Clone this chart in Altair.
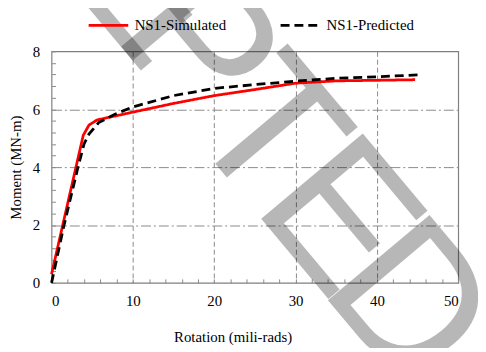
import altair as alt
import pandas as pd

# Data
sim_x = [0, 3.9, 4.6, 5.6, 10, 15, 20, 25, 30, 35, 40, 44.7]
sim_y = [0.3, 5.1, 5.45, 5.63, 5.9, 6.2, 6.47, 6.68, 6.9, 6.98, 7.0, 7.02]
pred_x = [0, 1.5, 3.2, 4.0, 4.6, 5.8, 7.8, 10, 15, 20, 25, 30, 35, 40, 45.4]
pred_y = [0, 1.95, 3.94, 4.8, 5.14, 5.54, 5.83, 6.08, 6.47, 6.72, 6.85, 6.97, 7.07, 7.12, 7.19]
series = ["NS1-Simulated", "NS1-Predicted"]
x_ticks = [0, 2, 4, 6, 8, 10, 12, 14, 16, 18, 20, 22, 24, 26, 28, 30, 32, 34, 36, 38, 40,
           42, 44, 46, 48, 50]
y_ticks = [0, 0.4, 0.8, 1.2, 1.6, 2, 2.4, 2.8, 3.2, 3.6, 4, 4.4, 4.8, 5.2, 5.6, 6, 6.4,
           6.8, 7.2, 7.6, 8]
watermark_letters = ["E", "P", "T", "E", "D"]

rows = []
for i, (x, y) in enumerate(zip(sim_x, sim_y)):
    rows.append({"series": series[0], "x": x, "y": y, "o": i})
for i, (x, y) in enumerate(zip(pred_x, pred_y)):
    rows.append({"series": series[1], "x": x, "y": y, "o": i})
df = pd.DataFrame(rows)

FONT = "Liberation Serif, Times New Roman, Times, serif"
GRID = "#8a8a8a"

x_axis = alt.Axis(
    values=x_ticks,
    title="Rotation (mili-rads)",
    labelExpr="datum.value % 10 == 0 ? format(datum.value, 'd') : ''",
    grid=True,
    gridColor=GRID,
    gridDash=[5, 3],
    gridOpacity={"condition": {"test": "datum.value % 10 == 0 && datum.value > 0 && datum.value < 50", "value": 1}, "value": 0},
    domain=False,
    ticks=True,
    tickColor=GRID,
    tickSize=4,
    offset=-4,
    labelPadding=11,
    labelFont=FONT,
    labelFontSize=15,
    labelColor="black",
    titleFont=FONT,
    titleFontSize=15,
    titleFontWeight="normal",
    titleColor="black",
    titlePadding=21,
    titleX=183,
)

y_axis = alt.Axis(
    values=y_ticks,
    title="Moment (MN-m)",
    labelExpr="abs(datum.value - round(datum.value / 2) * 2) < 0.01 ? format(datum.value, 'd') : ''",
    grid=True,
    gridColor=GRID,
    gridDash=[10, 3, 2, 3],
    gridOpacity={"condition": {"test": "abs(datum.value - round(datum.value / 2) * 2) < 0.01 && datum.value > 0.1 && datum.value < 7.9", "value": 1}, "value": 0},
    domain=False,
    ticks=True,
    tickColor=GRID,
    tickSize=4,
    offset=-4,
    labelPadding=12,
    labelFont=FONT,
    labelFontSize=15,
    labelColor="black",
    titleFont=FONT,
    titleFontSize=15,
    titleFontWeight="normal",
    titleColor="black",
    titleX=-40,
    titleY=117,
    titleAlign="center",
    titleBaseline="middle",
    titleAngle=270,
)

# watermark letters (decoration of the scanned page), anchors relative to plot area
wm_anchor = [(12, -74), (60, -17), (133, 75), (201.5, 157), (269, 239.5)]
wm_layers = []
for letter, (ax, ay) in zip(watermark_letters, wm_anchor):
    wm_layers.append(
        alt.Chart(pd.DataFrame({"t": [letter]})).mark_text(
            font="Liberation Sans Narrow, Liberation Sans, sans-serif",
            fontSize=195,
            angle=50,
            align="left",
            baseline="alphabetic",
            color="black",
            opacity=0.28,
        ).encode(text="t:N", x=alt.value(ax), y=alt.value(ay))
    )

lines = alt.Chart(df).mark_line(strokeWidth=2.8).encode(
    x=alt.X("x:Q", scale=alt.Scale(domain=[0, 50], nice=False), axis=x_axis),
    y=alt.Y("y:Q", scale=alt.Scale(domain=[0, 8], nice=False), axis=y_axis),
    order="o:Q",
    color=alt.Color(
        "series:N",
        scale=alt.Scale(domain=series, range=["#ff0000", "#000000"]),
        legend=alt.Legend(
            title=None,
            orient="none",
            legendX=36,
            legendY=-48,
            direction="horizontal",
            symbolType="stroke",
            symbolSize=1600,
            symbolStrokeWidth=3,
            labelFont=FONT,
            labelFontSize=15,
            labelColor="black",
            labelOffset=5,
            columnPadding=48,
            padding=0,
        ),
    ),
    strokeDash=alt.StrokeDash(
        "series:N",
        scale=alt.Scale(domain=series, range=[[1, 0], [9, 5]]),
        legend=None,
    ),
)

chart = alt.layer(*wm_layers, lines).properties(
    width=411,
    height=234,
    autosize=alt.AutoSizeParams(type="none"),
    padding={"left": 44, "top": 42, "right": 20, "bottom": 64},
).configure_view(stroke="#808080", strokeWidth=1.2)

chart.save("out.html", embed_options={"renderer": "svg", "actions": False})
